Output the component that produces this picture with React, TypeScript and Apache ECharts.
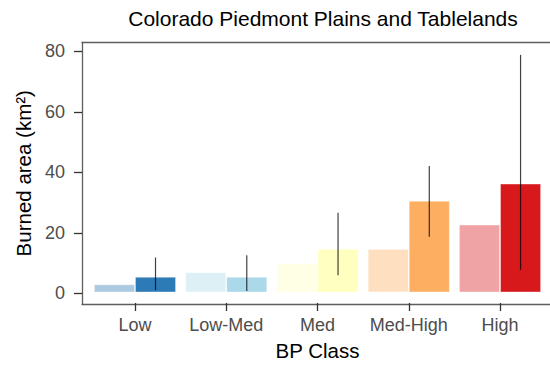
import React, { useEffect, useRef } from "react";
import * as echarts from "echarts";

const categories = ["Low", "Low-Med", "Med", "Med-High", "High"];
const previousValues = [2.7, 6.7, 9.7, 14.4, 22.5];
const currentValues = [5.2, 5.2, 14.5, 30.4, 36.1];
const errLow = [0.8, 0.5, 5.7, 18.5, 7.5];
const errHigh = [11.6, 12.3, 26.4, 41.9, 78.8];
const classColors = ["#2c7bb6", "#abd9e9", "#ffffbf", "#fdae61", "#d7191c"];
const yTicks = [0, 20, 40, 60, 80];

function hexToRgba(hex: string, a: number) {
  const n = parseInt(hex.slice(1), 16);
  return `rgba(${(n >> 16) & 255},${(n >> 8) & 255},${n & 255},${a})`;
}

const Y_MIN = -3.5;
const Y_MAX = 82.9;
const FONT = "Liberation Sans, Arial, sans-serif";
const BORDER = { show: true, onZero: false, lineStyle: { color: "#5e5e5e", width: 1.3 } };

export default function App() {
  const ref = useRef<HTMLDivElement>(null);
  useEffect(() => {
    if (!ref.current) return;
    const chart = echarts.init(ref.current, null, { renderer: "svg" });
    chart.setOption({
      animation: false,
      backgroundColor: "#ffffff",
      textStyle: { fontFamily: FONT },
      title: {
        text: "Colorado Piedmont Plains and Tablelands",
        left: 318,
        top: 3,
        textAlign: "center",
        textStyle: { fontFamily: FONT, fontSize: 21, fontWeight: "normal", color: "#000000" },
      },
      grid: [
        { left: 82, width: 473, top: 42.5, bottom: 62 },
        { left: 89.35, width: 456.3, top: 42.5, bottom: 62 },
      ],
      xAxis: [
        {
          type: "value", gridIndex: 0, min: 0, max: 1, position: "bottom",
          axisLine: BORDER, axisTick: { show: false }, axisLabel: { show: false }, splitLine: { show: false },
        },
        {
          type: "value", gridIndex: 0, min: 0, max: 1, position: "top",
          axisLine: BORDER, axisTick: { show: false }, axisLabel: { show: false }, splitLine: { show: false },
        },
        {
          type: "category",
          gridIndex: 1,
          data: categories,
          axisLine: { show: false, onZero: false },
          axisTick: { show: true, alignWithLabel: true, interval: 0, length: 8, lineStyle: { color: "#333333", width: 1.3 } },
          axisLabel: { color: "#4d4d4d", fontSize: 18, margin: 13, interval: 0, fontFamily: FONT },
          name: "BP Class",
          nameLocation: "middle",
          nameGap: 37,
          nameTextStyle: { color: "#000000", fontSize: 20.5, fontFamily: FONT },
        },
      ],
      yAxis: [
        {
          type: "value",
          gridIndex: 0,
          min: Y_MIN,
          max: Y_MAX,
          splitLine: { show: false },
          axisLine: BORDER,
          axisTick: { show: true, length: 8, customValues: yTicks, lineStyle: { color: "#333333", width: 1.3 } },
          axisLabel: { color: "#4d4d4d", fontSize: 18, margin: 17, customValues: yTicks, fontFamily: FONT },
          name: "Burned area (km²)",
          nameLocation: "middle",
          nameRotate: 90,
          nameGap: 48,
          nameTextStyle: { color: "#000000", fontSize: 20.5, fontFamily: FONT },
        },
        { type: "value", gridIndex: 1, min: Y_MIN, max: Y_MAX, show: false },
      ],
      series: [
        {
          type: "bar",
          xAxisIndex: 2,
          yAxisIndex: 1,
          barGap: "0%",
          barCategoryGap: "10%",
          data: previousValues.map((v, i) => ({
            value: v,
            itemStyle: {
              color: hexToRgba(classColors[i], 0.4),
              borderColor: "rgba(255,255,255,0.35)",
              borderWidth: 1,
            },
          })),
        },
        {
          type: "bar",
          xAxisIndex: 2,
          yAxisIndex: 1,
          barGap: "0%",
          barCategoryGap: "10%",
          data: currentValues.map((v, i) => ({
            value: v,
            itemStyle: {
              color: classColors[i],
              borderColor: "rgba(255,255,255,0.35)",
              borderWidth: 1,
            },
          })),
        },
        {
          type: "custom",
          xAxisIndex: 2,
          yAxisIndex: 1,
          z: 10,
          data: categories.map((c, i) => [i, errLow[i], errHigh[i]]),
          encode: { x: 0, y: [1, 2] },
          renderItem: (params: any, api: any) => {
            const idx = api.value(0);
            const lo = api.coord([idx, api.value(1)]);
            const hi = api.coord([idx, api.value(2)]);
            const band = api.size([1, 0])[0];
            const x = lo[0] + band * 0.225;
            return {
              type: "line",
              shape: { x1: x, y1: lo[1], x2: x, y2: hi[1] },
              style: { stroke: "#000000", lineWidth: 1.2, opacity: 0.75 },
            };
          },
        },
      ],
    });
    return () => chart.dispose();
  }, []);
  return (
    <div
      ref={ref}
      style={{ width: 550, height: 366, position: "fixed", left: 0, top: 0 }}
    />
  );
}
